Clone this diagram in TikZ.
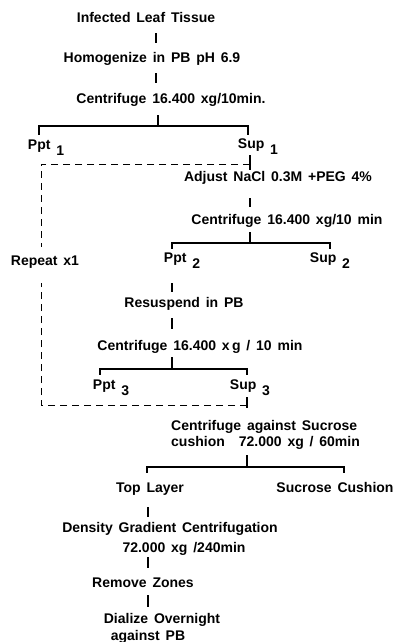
\documentclass[tikz,border=0pt]{standalone}
\usepackage{fontspec}
\newfontfamily\flowfont{Liberation Sans}[WordSpace=1.5]
\usetikzlibrary{calc}
\newcommand{\lowsub}[1]{\ \raisebox{-6pt}{#1}}
\tikzset{
  lbl/.style={font=\flowfont\bfseries\fontsize{14}{16}\selectfont, inner sep=0pt, text height=10pt, text depth=3pt, anchor=base},
  rule/.style={line width=1.6pt},
  back/.style={line width=1pt, dash pattern=on 7pt off 5pt},
}

\begin{document}
\begin{tikzpicture}[x=1pt, y=-1pt]
        \useasboundingbox (0,0) rectangle (393,642);
        % steps
        \node[lbl] (leaf) at (146,23) {Infected Leaf Tissue};
        \node[lbl] (homog) at (152,63) {Homogenize in PB pH 6.9};
        \node[lbl] (cent1) at (171,103) {Centrifuge 16.400 xg/10min.};
        \node[lbl] (ppt1) at (46,149) {Ppt\lowsub{1}};
        \node[lbl] (sup1) at (258,148) {Sup\lowsub{1}};
        \node[lbl] (adjust) at (278,181) {Adjust NaCl 0.3M +PEG 4\%};
        \node[lbl] (cent2) at (287,224) {Centrifuge 16.400 xg/10 min};
        \node[lbl] (ppt2) at (182,262) {Ppt\lowsub{2}};
        \node[lbl] (sup2) at (330,262) {Sup\lowsub{2}};
        \node[lbl] (rep) at (45,265) {Repeat x1};
        \node[lbl] (resusp) at (184,307) {Resuspend in PB};
        \node[lbl] (cent3) at (200,350) {Centrifuge 16.400 x\,g / 10 min};
        \node[lbl] (ppt3) at (111,389) {Ppt\lowsub{3}};
        \node[lbl] (sup3) at (250,389) {Sup\lowsub{3}};
        \node[lbl, anchor=base west] (sucA) at (171,430) {Centrifuge against Sucrose};
        \node[lbl, anchor=base west] (sucB) at (171,446) {cushion\hspace{14pt}72.000 xg / 60min};
        \node[lbl] (top) at (150,492) {Top Layer};
        \node[lbl] (cush) at (335,492) {Sucrose Cushion};
        \node[lbl] (dens) at (170,532) {Density Gradient Centrifugation};
        \node[lbl] (dens2) at (184,552) {72.000 xg /240min};
        \node[lbl] (zones) at (143,587) {Remove Zones};
        \node[lbl] (dial1) at (162,623) {Dialize Overnight};
        \node[lbl] (dial2) at (148,640) {against PB};
        % columns and forks
        \coordinate (c1) at (156,0);
        \coordinate (c2) at (250,0);
        \coordinate (c3) at (172,0);
        \coordinate (c4) at (247,0);
        \coordinate (c5) at (148,0);
        \coordinate (lx) at (41,0);
        \coordinate (f1) at (158,126);
        \coordinate (f1l) at (39,126);
        \coordinate (f1r) at (248,126);
        \coordinate (f2) at (250,243);
        \coordinate (f2l) at (172,243);
        \coordinate (f2r) at (330,243);
        \coordinate (f3) at (172,369);
        \coordinate (f3l) at (100,369);
        \coordinate (f3r) at (247,369);
        \coordinate (f4) at (247,467);
        \coordinate (f4l) at (147,467);
        \coordinate (f4r) at (344,467);
        \coordinate (lp1) at (250,164);
        \coordinate (lp2) at (247,405);
        % solid links
        \draw[rule, shorten <=7pt, shorten >=10pt] (leaf.south -| c1) -- (homog.north -| c1);
        \draw[rule, shorten <=7pt, shorten >=10pt] (homog.south -| c1) -- (cent1.north -| c1);
        \draw[rule, shorten <=9pt] (cent1.south -| f1) -- (f1);
        \draw[rule, shorten <=4pt, shorten >=3pt] (ppt1.north -| f1l) -- (f1l) -- (f1r) -- (sup1.north -| f1r);
        \draw[rule, shorten <=4pt, shorten >=1pt] (sup1.south -| c2) -- (adjust.north -| c2);
        \draw[rule, shorten <=14pt, shorten >=7pt] (adjust.south -| c2) -- (cent2.north -| c2);
        \draw[rule, shorten <=5pt] (cent2.south -| f2) -- (f2);
        \draw[rule, shorten <=3pt, shorten >=3pt] (ppt2.north -| f2l) -- (f2l) -- (f2r) -- (sup2.north -| f2r);
        \draw[rule, shorten <=18pt, shorten >=5pt] (ppt2.south -| c3) -- (resusp.north -| c3);
        \draw[rule, shorten <=8pt, shorten >=11pt] (resusp.south -| c3) -- (cent3.north -| c3);
        \draw[rule, shorten <=4pt] (cent3.south -| f3) -- (f3);
        \draw[rule, shorten <=4pt, shorten >=4pt] (ppt3.north -| f3l) -- (f3l) -- (f3r) -- (sup3.north -| f3r);
        \draw[rule, shorten <=5pt, shorten >=12pt] (sup3.south -| c4) -- (sucA.north -| c4);
        \draw[rule, shorten <=6pt] (sucB.south -| f4) -- (f4);
        \draw[rule, shorten <=9pt, shorten >=9pt] (top.north -| f4l) -- (f4l) -- (f4r) -- (cush.north -| f4r);
        \draw[rule, shorten <=12pt, shorten >=5pt] (top.south -| c5) -- (dens.north -| c5);
        \draw[rule, shorten <=2pt, shorten >=9pt] (dens2.south -| c5) -- (zones.north -| c5);
        \draw[rule, shorten <=5pt, shorten >=6pt] (zones.south -| c5) -- (dial1.north -| c5);
        % repeat loop
        \draw[back, shorten >=8pt] (lp1) -| (rep.north -| lx);
        \draw[back, shorten >=15pt] (lp2) -| (rep.south -| lx);
      \end{tikzpicture}
\end{document}
